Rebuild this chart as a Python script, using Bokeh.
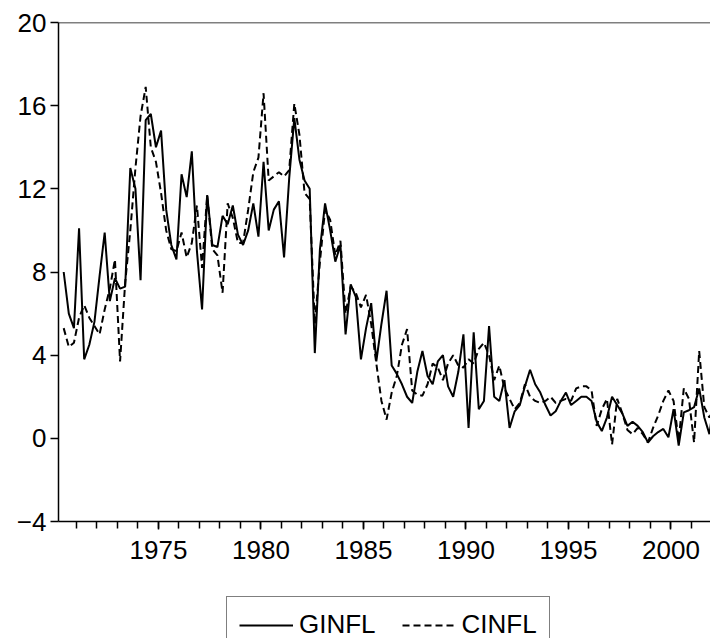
from bokeh.plotting import figure
from bokeh.layouts import column
from bokeh.models import FixedTicker, Span, Legend, LegendItem, Range1d, ColumnDataSource
from bokeh.embed import file_html
from bokeh.resources import INLINE

# Quarterly data, 1970Q2 .. 2002Q1
start_year = 1970
start_quarter = 2

ginfl = [8.0, 6.0, 5.3, 10.1, 3.8, 4.5, 5.6, 7.8, 9.9, 6.6,
         7.7, 7.2, 7.3, 13.0, 12.0, 7.6, 15.3, 15.6, 14.0, 14.8,
         11.0, 9.3, 8.6, 12.7, 11.6, 13.8, 9.0, 6.2, 11.7, 9.3,
         9.2, 10.7, 10.3, 11.2, 9.8, 9.3, 10.0, 11.3, 9.7, 13.3,
         10.0, 11.0, 11.4, 8.7, 12.5, 15.4, 13.4, 12.4, 12.0, 4.1,
         9.1, 11.3, 10.0, 8.5, 9.3, 5.0, 7.4, 6.8, 3.8, 5.3,
         6.5, 3.7, 5.5, 7.1, 3.5, 3.1, 2.6, 2.0, 1.7, 3.2,
         4.2, 3.0, 2.6, 3.7, 4.0, 2.5, 2.0, 3.2, 5.0, 0.5,
         5.1, 1.4, 1.8, 5.4, 2.0, 1.8, 2.8, 0.5, 1.3, 1.6,
         2.5, 3.3, 2.6, 2.2, 1.6, 1.1, 1.3, 1.8, 2.2, 1.6,
         1.8, 2.0, 2.0, 1.8, 0.8, 0.35, 1.0, 2.0, 1.6, 1.2,
         0.6, 0.8, 0.6, 0.3, -0.2, 0.1, 0.3, 0.45, 0.05, 1.4,
         -0.35, 1.25, 1.35, 1.5, 2.4, 1.0, 0.2, 2.0]

cinfl = [5.3, 4.4, 4.6, 5.8, 6.4, 5.8, 5.4, 5.0, 6.2, 7.2,
         8.6, 3.7, 7.5, 10.0, 13.0, 15.5, 16.9, 14.0, 13.3, 11.8,
         10.0, 9.1, 9.0, 9.9, 8.7, 9.4, 11.2, 8.2, 11.7, 9.1,
         8.8, 7.0, 11.3, 10.6, 9.4, 9.4, 11.0, 12.8, 13.5, 16.6,
         12.4, 12.6, 12.8, 12.6, 12.9, 16.1, 14.6, 11.8, 11.5, 5.5,
         8.5, 11.0, 10.5, 8.8, 9.5, 6.0, 7.3, 7.0, 6.3, 6.9,
         5.5, 3.6, 1.8, 0.9, 2.2, 3.0, 4.5, 5.25, 2.3, 2.1,
         2.05, 2.6, 3.6, 3.4, 2.8, 3.6, 4.0, 3.5, 3.4, 3.8,
         3.6, 4.3, 4.6, 4.0, 2.8, 3.5, 2.4, 1.9, 1.4, 1.7,
         2.6, 2.0, 1.8, 1.7, 1.8, 2.0, 1.7, 1.8, 1.9, 1.8,
         2.4, 2.5, 2.5, 2.3, 0.6, 1.4, 1.9, -0.3, 1.9, 1.2,
         0.4, 0.2, 0.5, 0.2, -0.2, 0.5, 1.1, 1.8, 2.3, 1.8,
         -0.1, 2.4, 1.9, -0.2, 4.2, 1.5, 1.0, 1.5]

series_names = ["GINFL", "CINFL"]
year_ticks = [1975, 1980, 1985, 1990, 1995, 2000]
minor_years = list(range(1971, 2002))
y_ticks = [-4, 0, 4, 8, 12, 16, 20]

# mid-quarter date positions
dates = [start_year + (start_quarter - 1 + i) / 4.0 + 0.125 for i in range(len(ginfl))]
src = ColumnDataSource(dict(t=dates, g=ginfl, c=cinfl))

FONT = "Liberation Sans"
DASH = "7 4"

p = figure(width=710, height=580, output_backend="svg", toolbar_location=None,
           x_range=Range1d(1970.122, 2001.927), y_range=Range1d(-4, 20),
           min_border_left=58, min_border_right=0, min_border_top=22,
           min_border_bottom=59)
p.outline_line_color = None
p.grid.visible = False
p.background_fill_color = "white"
p.border_fill_color = "white"

p.line("t", "g", source=src, line_color="black", line_width=2)
p.line("t", "c", source=src, line_color="black", line_width=2, line_dash=DASH)

top = Span(location=20, dimension="width", line_color="black", line_width=1.5)
p.add_layout(top)

xa = p.xaxis[0]
xa.ticker = FixedTicker(ticks=year_ticks, minor_ticks=minor_years)
xa.axis_line_color = "black"
xa.axis_line_width = 1.5
xa.major_tick_in = 0
xa.major_tick_out = 8
xa.minor_tick_in = 0
xa.minor_tick_out = 7
xa.major_tick_line_width = 1.5
xa.minor_tick_line_width = 1.5
xa.major_label_text_font = FONT
xa.major_label_text_font_size = "26px"
xa.major_label_text_color = "black"
xa.major_label_standoff = 11

ya = p.yaxis[0]
ya.ticker = FixedTicker(ticks=y_ticks, minor_ticks=[])
ya.axis_line_color = "black"
ya.axis_line_width = 1.5
ya.major_tick_in = 0
ya.major_tick_out = 8
ya.major_tick_line_width = 1.5
ya.minor_tick_line_color = None
ya.major_label_text_font = FONT
ya.major_label_text_font_size = "26px"
ya.major_label_text_color = "black"
ya.major_label_standoff = 4

# legend strip below the chart (series drawn outside its visible range,
# so only the legend is seen)
q = figure(width=710, height=58, output_backend="svg", toolbar_location=None,
           x_axis_type=None, y_axis_type=None,
           x_range=Range1d(0, 1), y_range=Range1d(0, 1),
           min_border_left=0, min_border_right=0, min_border_top=0, min_border_bottom=0)
q.outline_line_color = None
q.grid.visible = False
q.background_fill_color = "white"
q.border_fill_color = "white"
lg_g = q.line("t", "g", source=src, line_color="black", line_width=2)
lg_c = q.line("t", "c", source=src, line_color="black", line_width=2, line_dash=DASH)

legend = Legend(items=[LegendItem(label=series_names[0], renderers=[lg_g]),
                       LegendItem(label=series_names[1], renderers=[lg_c])],
                orientation="horizontal", location=(168, -15))
legend.border_line_color = "black"
legend.border_line_width = 1.5
legend.background_fill_color = "white"
legend.background_fill_alpha = 1
legend.label_text_font = FONT
legend.label_text_font_size = "26px"
legend.label_text_color = "black"
legend.glyph_width = 54
legend.glyph_height = 26
legend.label_standoff = 6
legend.spacing = 26
legend.padding = 12
legend.margin = 0
q.add_layout(legend, "center")

layout = column(p, q, spacing=0)
open("out.html", "w").write(file_html(layout, INLINE))
